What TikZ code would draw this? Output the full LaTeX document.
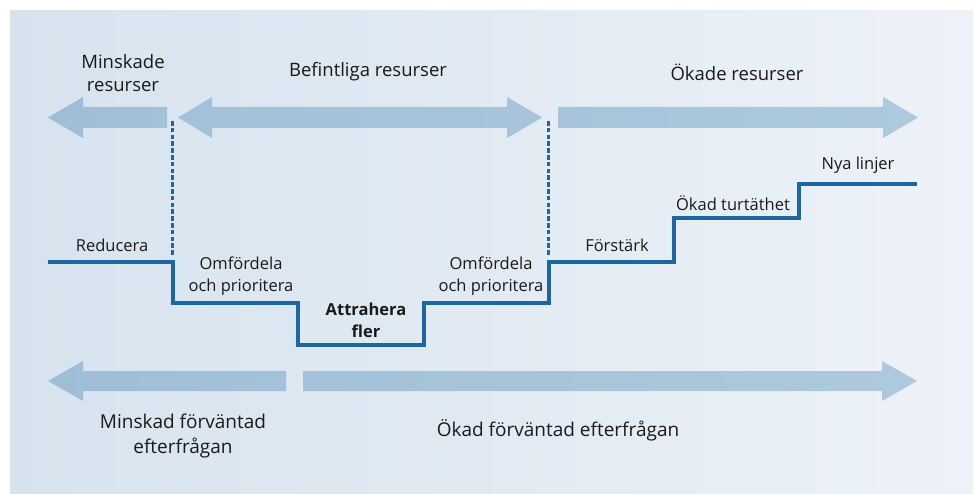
\documentclass[tikz,border=0pt]{standalone}
\usepackage{fontspec}
\setmainfont{Open Sans}
\definecolor{bgL}{HTML}{D6E3EE}
\definecolor{bgR}{HTML}{EDF2F8}
\definecolor{arA}{HTML}{9FBED6}
\definecolor{arB}{HTML}{A3C1D8}
\definecolor{arC}{HTML}{A7C4DA}
\definecolor{arD}{HTML}{AEC9DD}
\definecolor{stepc}{HTML}{1E66A2}
\definecolor{txt}{HTML}{1A1A1A}
\tikzset{
  lbl/.style={text=txt, font=\fontsize{16.5}{22}\selectfont, align=center, inner sep=0pt},
  toplbl/.style={lbl, font=\fontsize{18.5}{23}\selectfont},
  botlbl/.style={lbl, font=\fontsize{19}{25}\selectfont},
  stepline/.style={draw=stepc, line width=3.2pt, line join=miter},
  dashbit/.style={fill=stepc},
}
\begin{document}
\begin{tikzpicture}[x=1pt,y=-1pt]
\useasboundingbox (0,0) rectangle (977,494);
\fill[white] (0,0) rectangle (977,494);
\shade[left color=bgL, right color=bgR] (10,11) rectangle (973,494);

% top arrows
\shade[left color=arA, right color=arB]
  (48,117.5) -- (83,97) -- (83,107) -- (167,107) -- (167,128) -- (83,128) -- (83,138) -- cycle;
\shade[left color=arB, right color=arC]
  (178,117.5) -- (212,97) -- (212,107) -- (507,107) -- (507,97) -- (542,117.5) -- (507,138) -- (507,128) -- (212,128) -- (212,138) -- cycle;
\shade[left color=arC, right color=arD]
  (558,107) -- (883,107) -- (883,97) -- (918,117.5) -- (883,138) -- (883,128) -- (558,128) -- cycle;

% bottom arrows
\shade[left color=arA, right color=arB]
  (48,381) -- (83,361) -- (83,371) -- (286,371) -- (286,391) -- (83,391) -- (83,401) -- cycle;
\shade[left color=arB, right color=arD]
  (303,371) -- (882,371) -- (882,361) -- (917,381) -- (882,401) -- (882,391) -- (303,391) -- cycle;

% dashed separators (drawn as dash blocks)
\foreach \yy in {121,127.8,...,256} {
  \fill[dashbit] (170.8,\yy) rectangle (174.2,\yy+4.6);
  \fill[dashbit] (546.8,\yy) rectangle (550.2,\yy+4.6);
}

% step line
\draw[stepline] (48,262) -- (173,262) -- (173,303) -- (298,303) -- (298,345)
  -- (424,345) -- (424,303) -- (549,303) -- (549,262) -- (674,262) -- (674,218)
  -- (799,218) -- (799,184) -- (917,184);

% labels
\node[toplbl] (minres) at (123,73) {Minskade\\resurser};
\node[toplbl] (befres) at (368,72) {Befintliga resurser};
\node[toplbl] (okres) at (737,72) {Ökade resurser};
\node[lbl] (red) at (112,245) {Reducera};
\node[lbl] (omf1) at (241,276) {Omfördela\\och prioritera};
\node[lbl, font=\fontsize{16.5}{22}\selectfont\bfseries] (attr) at (366,320) {Attrahera\\fler};
\node[lbl] (omf2) at (491,276) {Omfördela\\och prioritera};
\node[lbl] (forst) at (617,245) {Förstärk};
\node[lbl] (okt) at (733,203) {Ökad turtäthet};
\node[lbl] (nya) at (858,165) {Nya linjer};
\node[botlbl] (minef) at (183,436) {Minskad förväntad\\efterfrågan};
\node[botlbl] (okef) at (558,430) {Ökad förväntad efterfrågan};
\end{tikzpicture}
\end{document}
